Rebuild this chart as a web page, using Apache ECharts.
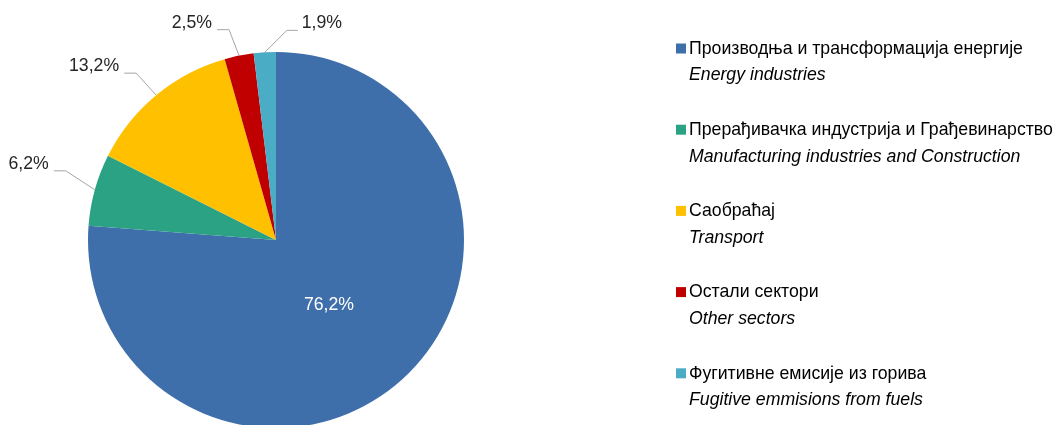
<!DOCTYPE html>
<html>
<head>
<meta charset="utf-8">
<script src="https://cdn.jsdelivr.net/npm/echarts@6/dist/echarts.min.js"></script>
<style>
html,body{margin:0;padding:0;background:#fff;}
#c{width:1056px;height:425px;}
</style>
</head>
<body>
<div id="c"></div>
<script>
const namesSr = ['Производња и трансформација енергије','Прерађивачка индустрија и Грађевинарство','Саобраћај','Остали сектори','Фугитивне емисије из горива'];
const namesEn = ['Energy industries','Manufacturing industries and Construction','Transport','Other sectors','Fugitive emmisions from fuels'];
const values = [76.2, 6.2, 13.2, 2.5, 1.9];
const colors = ['#3F6FAA','#2CA284','#FFC000','#C00000','#4BACC6'];

const FONT = '"Liberation Sans", Arial, sans-serif';
const FS = 17.7;
const chart = echarts.init(document.getElementById('c'), null, {renderer:'canvas'});
const data = namesSr.map((n,i)=>({
  name:n, value:values[i],
  itemStyle:{color:colors[i]},
  label: i===0 ? {position:'inside', color:'#fff'} : {position:'outside', color:'#262626'}
}));
const enMap = {}; namesSr.forEach((n,i)=>enMap[n]=namesEn[i]);

// leader-line styling: first segment offset and horizontal run per slice (style, not data)
const leader = {
  1:{d:[-29,-19], h:-12},
  2:{d:[-20,-22], h:-12},
  3:{d:[-10,-26], h:-12},
  4:{d:[22,-22],  h:11}
};

chart.setOption({
  animation:false,
  legend:{
    orient:'vertical', left:671, top:8, itemGap:9.7,
    itemWidth:10, itemHeight:10, icon:'rect', selectedMode:false,
    data:namesSr,
    formatter:n=>'{e|\u00a0}\n{a|'+n+'}\n{b|'+enMap[n]+'}',
    textStyle:{
      fontFamily:FONT, fontSize:FS, color:'#000', padding:[0,0,0,-2],
      rich:{
        e:{fontFamily:FONT,fontSize:FS,lineHeight:27},
        a:{fontFamily:FONT,fontSize:FS,lineHeight:27,color:'#000'},
        b:{fontFamily:FONT,fontSize:FS,lineHeight:26,fontStyle:'italic',color:'#000'}
      }
    }
  },
  series:[{
    type:'pie',
    center:[276,240], radius:188,
    startAngle:90, clockwise:true,
    data:data,
    label:{
      fontFamily:FONT, fontSize:FS,
      formatter:p=>p.value.toFixed(1).replace('.',',')+'%'
    },
    labelLine:{length:28, length2:12, lineStyle:{color:'#A6A6A6', width:1}},
    labelLayout:function(p){
      if(p.dataIndex===0){ return {dx:-13, dy:-6}; }
      const L = leader[p.dataIndex];
      if(L && p.labelLinePoints){
        const p0 = p.labelLinePoints[0];
        const p1 = [p0[0]+L.d[0], p0[1]+L.d[1]];
        const p2 = [p1[0]+L.h, p1[1]];
        const right = L.h > 0;
        return {
          x: p2[0] + (right ? 4 : -5), y: p2[1] - 7,
          align: right ? 'left' : 'right', verticalAlign:'middle',
          labelLinePoints:[p0,p1,p2]
        };
      }
      return {};
    }
  }]
});
</script>
</body>
</html>
